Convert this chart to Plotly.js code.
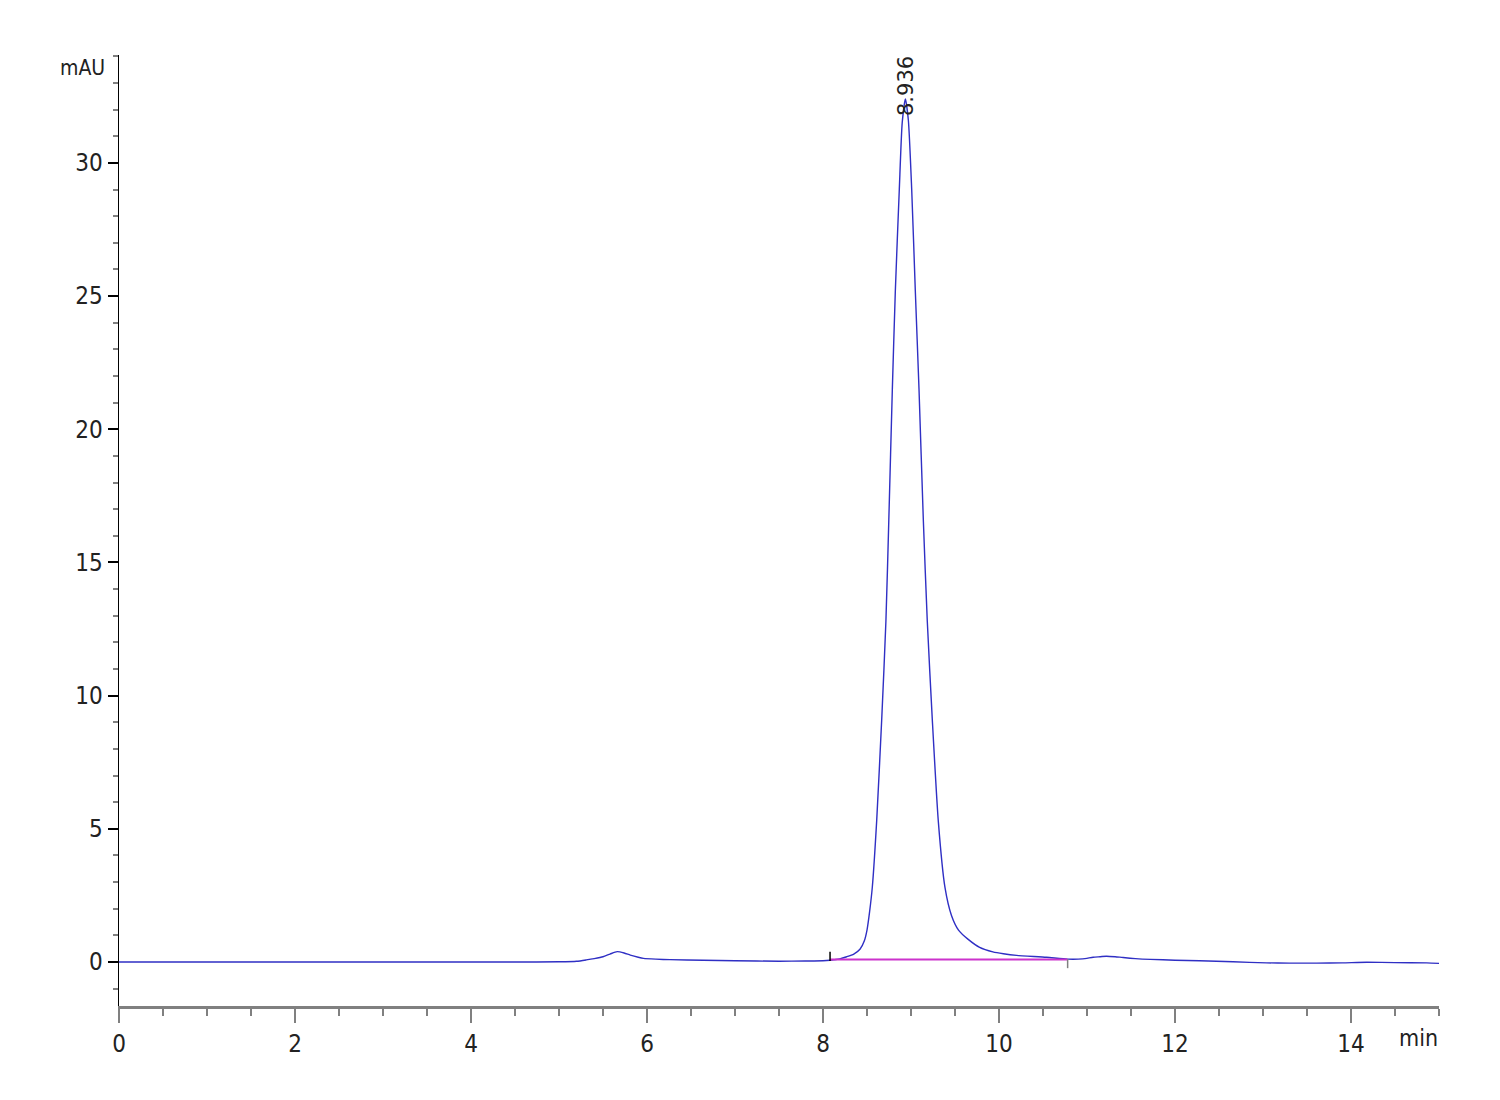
<!DOCTYPE html>
<html>
<head>
<meta charset="utf-8">
<script src="https://cdn.plot.ly/plotly-3.0.1.min.js"></script>
<style>html,body{margin:0;padding:0;background:#fff;}#chart{width:1500px;height:1100px;}</style>
</head>
<body>
<div id="chart"></div>
<script>
// Chromatogram signal (min, mAU)
var time = [0, 1, 2, 3, 4, 4.5, 5.0, 5.2, 5.31, 5.4, 5.5, 5.58, 5.66, 5.74, 5.81, 5.9, 5.96, 6.1, 6.26, 6.64, 7.0, 7.5, 7.8, 8.0, 8.08, 8.19, 8.27, 8.35, 8.42, 8.47, 8.50, 8.53, 8.56, 8.61, 8.667, 8.715, 8.748, 8.788, 8.822, 8.867, 8.90, 8.936, 8.97, 9.008, 9.049, 9.091, 9.14, 9.185, 9.242, 9.31, 9.386, 9.46, 9.54, 9.65, 9.78, 9.93, 10.05, 10.2, 10.54, 10.78, 10.95, 11.07, 11.15, 11.22, 11.32, 11.41, 11.55, 11.72, 12.0, 12.28, 12.66, 13.04, 13.3, 13.61, 13.9, 14.18, 14.5, 14.86, 15.0];
var signal = [0, 0, 0, 0, 0, 0.0, 0.01, 0.03, 0.08, 0.13, 0.2, 0.3, 0.39, 0.34, 0.26, 0.18, 0.14, 0.11, 0.09, 0.07, 0.05, 0.03, 0.04, 0.05, 0.07, 0.12, 0.2, 0.3, 0.48, 0.8, 1.2, 1.9, 2.8, 5.3, 9.1, 12.8, 16.6, 21.5, 25.2, 29.0, 31.5, 32.4, 31.6, 29.0, 25.2, 21.5, 16.6, 12.8, 9.1, 5.3, 2.8, 1.75, 1.2, 0.85, 0.55, 0.38, 0.31, 0.25, 0.18, 0.11, 0.12, 0.18, 0.2, 0.22, 0.2, 0.17, 0.13, 0.1, 0.07, 0.05, 0.01, -0.03, -0.04, -0.04, -0.03, -0.01, -0.02, -0.03, -0.05];

// Integration baseline and peak markers
var baseTime = [8.08, 10.78];
var baseSignal = [0.1, 0.1];
var startMarkTime = [8.08, 8.08];
var startMarkSignal = [0.04, 0.39];
var endMarkTime = [10.78, 10.78];
var endMarkSignal = [0.11, -0.23];

var peakTime = 8.936;
var peakLabel = "8.936";
var peakLabelY = 32.9;

var xTickVals = [0, 2, 4, 6, 8, 10, 12, 14];
var yTickVals = [0, 5, 10, 15, 20, 25, 30];

var FONT = "'DejaVu Sans Condensed', 'Liberation Sans', sans-serif";

var traces = [
  {x: time, y: signal, type: 'scatter', mode: 'lines', line: {color: '#2f2fc4', width: 1.4, shape: 'spline', smoothing: 0.6}},
  {x: baseTime, y: baseSignal, type: 'scatter', mode: 'lines', line: {color: '#cc33cc', width: 2}},
  {x: startMarkTime, y: startMarkSignal, type: 'scatter', mode: 'lines', line: {color: '#000000', width: 1.5}},
  {x: endMarkTime, y: endMarkSignal, type: 'scatter', mode: 'lines', line: {color: '#808080', width: 1.5}}
];

var layout = {
  width: 1500, height: 1100,
  margin: {l: 119, r: 61, t: 55, b: 94},
  paper_bgcolor: '#ffffff', plot_bgcolor: '#ffffff',
  showlegend: false,
  font: {family: FONT, size: 24, color: '#222222'},
  xaxis: {
    range: [0, 15], showgrid: false, zeroline: false,
    showline: true, linecolor: '#808080', linewidth: 3,
    ticks: 'outside', ticklen: 14, tickwidth: 1.5, tickcolor: '#808080',
    tickvals: xTickVals, ticktext: xTickVals.map(String),
    minor: {dtick: 0.5, ticks: 'outside', ticklen: 7, tickwidth: 1.5, tickcolor: '#808080', showgrid: false},
    tickfont: {family: FONT, size: 24, color: '#222222'}
  },
  yaxis: {
    range: [-1.65, 34.05], showgrid: false, zeroline: false,
    showline: true, linecolor: '#000000', linewidth: 1.5,
    ticks: 'outside', ticklen: 10, tickwidth: 2, tickcolor: '#000000',
    tickvals: yTickVals, ticktext: yTickVals.map(String),
    minor: {dtick: 1, ticks: 'outside', ticklen: 5, tickwidth: 2, tickcolor: '#808080', showgrid: false},
    tickfont: {family: FONT, size: 24, color: '#222222'}
  },
  annotations: [
    {x: peakTime, y: peakLabelY, xref: 'x', yref: 'y', text: peakLabel, textangle: -90, showarrow: false,
     xanchor: 'center', yanchor: 'middle', font: {family: "'DejaVu Sans', sans-serif", size: 21, color: '#222222'}},
    {x: -0.009, y: 0.986, xref: 'paper', yref: 'paper', text: 'mAU', showarrow: false,
     xanchor: 'right', yanchor: 'middle', font: {family: FONT, size: 21, color: '#222222'}},
    {x: 1.001, y: -0.034, xref: 'paper', yref: 'paper', text: 'min', showarrow: false,
     xanchor: 'right', yanchor: 'middle', font: {family: FONT, size: 23, color: '#222222'}}
  ]
};

Plotly.newPlot('chart', traces, layout, {displayModeBar: false, staticPlot: true});
</script>
</body>
</html>
